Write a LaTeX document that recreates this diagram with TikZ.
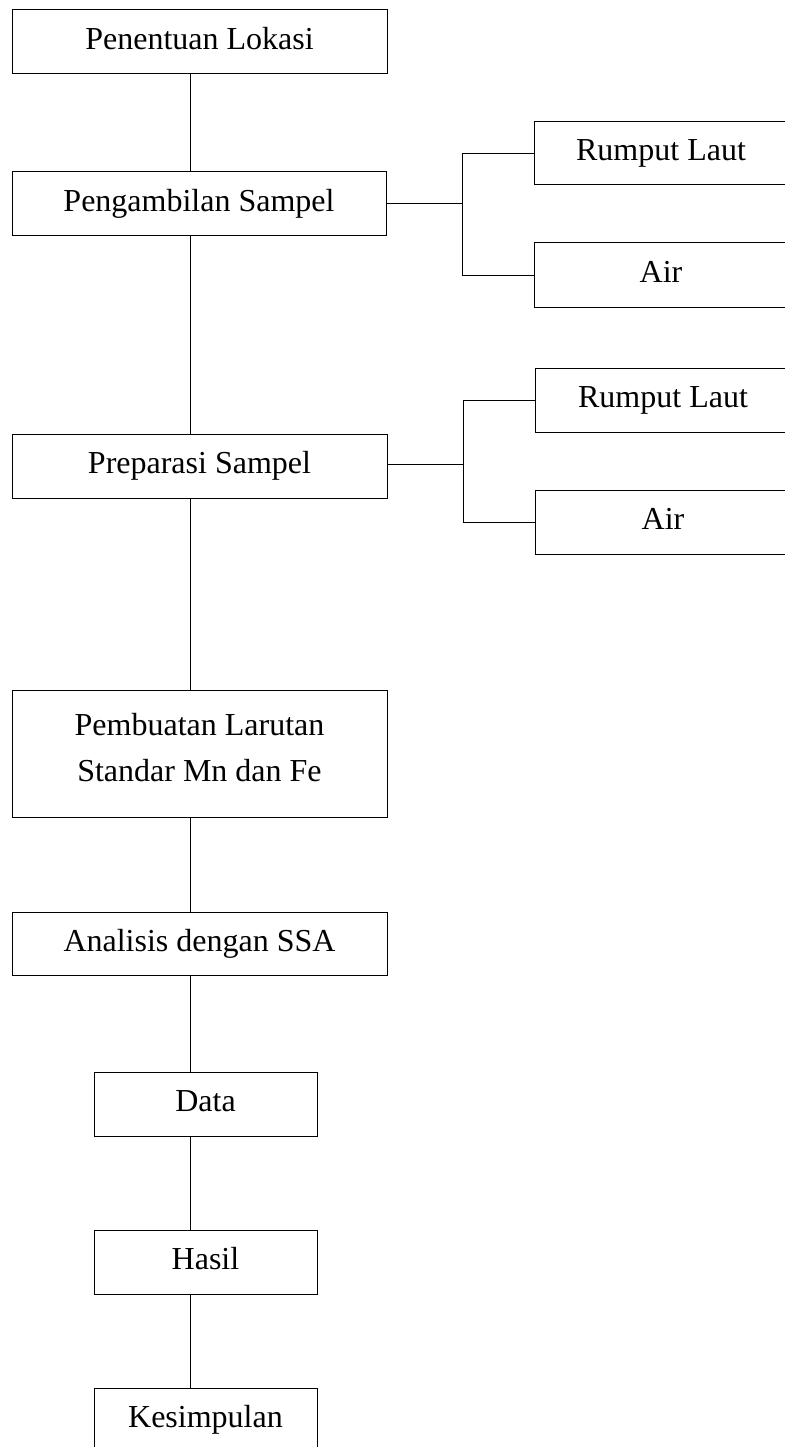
\documentclass[tikz,border=0pt]{standalone}
\usepackage{fontspec}
\setmainfont{Liberation Serif}
\begin{document}
\begin{tikzpicture}[x=1pt,y=-1pt,
  box/.style={draw=black, line width=1pt, inner sep=0pt, font=\fontsize{32}{46}\selectfont, text height=21pt, text depth=6pt},
  plain/.style={inner sep=0pt, font=\fontsize{32}{46}\selectfont, align=center},
  conn/.style={draw=black, line width=1pt}]
\useasboundingbox (0,0) rectangle (784,1447);
\coordinate (spine) at (190,0);
\node[box, minimum width=375pt, minimum height=64pt] (pen) at (199.5,42) {Penentuan Lokasi};
\node[box, minimum width=374pt, minimum height=64pt] (peng) at (199,204) {Pengambilan Sampel};
\node[box, minimum width=375pt, minimum height=64pt] (prep) at (199.5,466) {Preparasi Sampel};
\node[box, minimum width=375pt, minimum height=127pt, text height=, text depth=] (pemb) at (199.5,753.5) {};
\node[plain] (pembt) at (199.5,748) {Pembuatan Larutan\\Standar Mn dan Fe};
\node[box, minimum width=375pt, minimum height=63pt] (anal) at (199.5,943.5) {Analisis dengan SSA};
\node[box, minimum width=223pt, minimum height=64pt] (data) at (205.5,1104) {Data};
\node[box, minimum width=223pt, minimum height=64pt] (hasil) at (205.5,1262) {Hasil};
\node[box, minimum width=223pt, minimum height=64pt] (kes) at (205.5,1420) {Kesimpulan};
\node[box, minimum width=254pt, minimum height=63pt] (rl1) at (661,153.5) {Rumput Laut};
\node[box, minimum width=254pt, minimum height=64pt] (air1) at (661,275) {Air};
\node[box, minimum width=256pt, minimum height=64pt] (rl2) at (663,400) {Rumput Laut};
\node[box, minimum width=256pt, minimum height=64pt] (air2) at (663,522) {Air};
\coordinate (j1) at (462,204);
\coordinate (j2) at (463,464);
% spine
\path[conn] (pen.south -| spine) -- (peng.north -| spine);
\path[conn] (peng.south -| spine) -- (prep.north -| spine);
\path[conn] (prep.south -| spine) -- (pemb.north -| spine);
\path[conn] (pemb.south -| spine) -- (anal.north -| spine);
\path[conn] (anal.south -| spine) -- (data.north -| spine);
\path[conn] (data.south -| spine) -- (hasil.north -| spine);
\path[conn] (hasil.south -| spine) -- (kes.north -| spine);
% branches
\path[conn] (peng.east |- j1) -- (j1);
\path[conn] (j1 |- rl1.west) -- (j1 |- air1.west);
\path[conn] (j1 |- rl1.west) -- (rl1.west);
\path[conn] (j1 |- air1.west) -- (air1.west);
\path[conn] (prep.east |- j2) -- (j2);
\path[conn] (j2 |- rl2.west) -- (j2 |- air2.west);
\path[conn] (j2 |- rl2.west) -- (rl2.west);
\path[conn] (j2 |- air2.west) -- (air2.west);
\end{tikzpicture}
\end{document}
